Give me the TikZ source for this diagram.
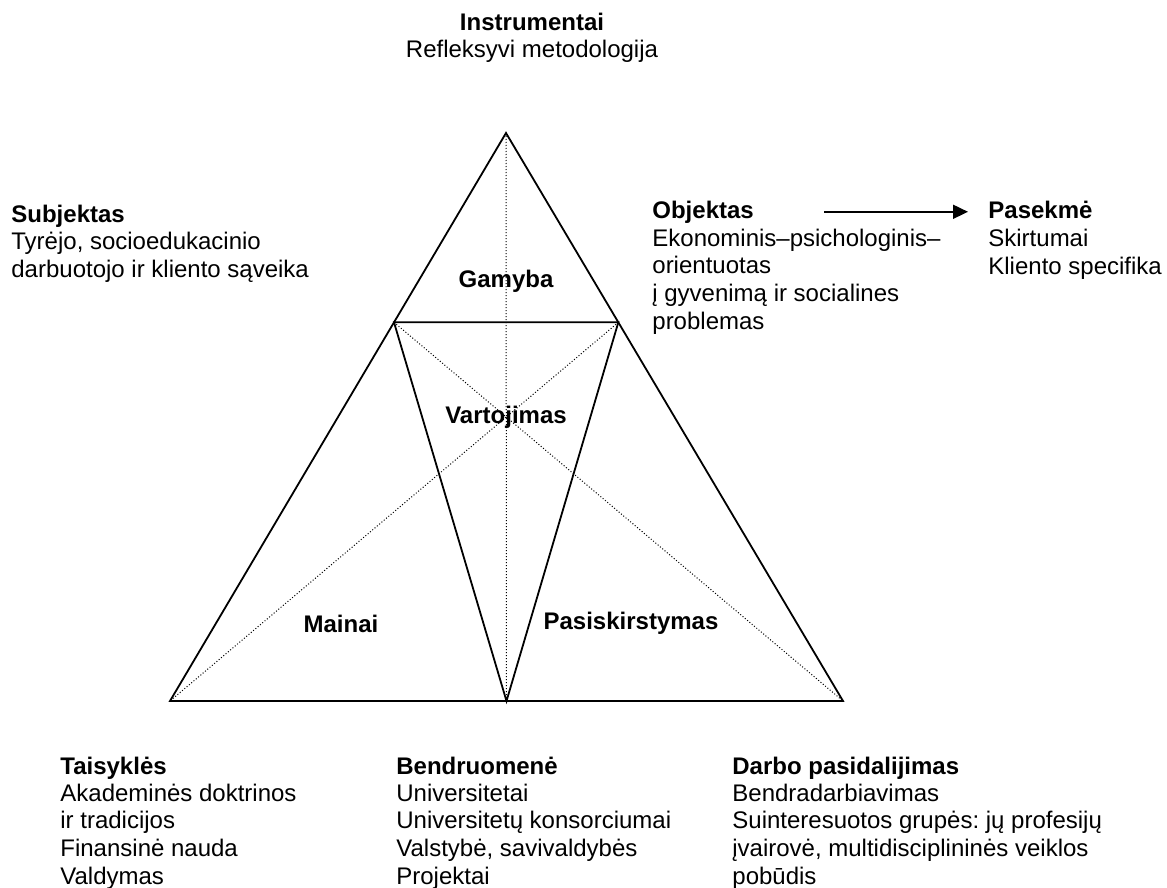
\documentclass[tikz,border=0pt]{standalone}
\usepackage{fontspec}
\setmainfont{Liberation Sans}
\usepackage{tikz}
\usetikzlibrary{calc,positioning,arrows.meta}
\frenchspacing

\begin{document}
\begin{tikzpicture}[x=0.5pt,y=-0.5pt]
    % Local definitions
    \def\third{1/3}
    \def\txtsize{\fontsize{12pt}{13.8pt}\selectfont}

    % Styles
    \tikzstyle{edge line}=[line width=0.9pt]
    \tikzstyle{guide line}=[line width=0.5pt,densely dotted]
    \tikzstyle{heading}=[anchor=base west,inner sep=0pt,font=\txtsize\bfseries]
    % a text block hangs on the baseline of its last line
    \tikzstyle{body text}=[anchor=base west,inner sep=0pt,align=left,font=\txtsize]
    \tikzstyle{part label}=[anchor=base,inner sep=0pt,font=\txtsize\bfseries]

    \fill[white] (0,0) rectangle (1167,888);
    \useasboundingbox (0,0) rectangle (1167,888);

    % The graphic
    \coordinate (top) at (506,133);
    \coordinate (left) at (170,701);
    \coordinate (right) at (843,701);
    \coordinate (mid) at ($(left)!.5!(right)$);
    \coordinate (p) at ($(top)!\third!(left)$);
    \coordinate (q) at ($(top)!\third!(right)$);

    \draw[style=guide line] (top) -- (mid);
    \draw[style=guide line] (p) -- (right);
    \draw[style=guide line] (q) -- (left);

    \draw[style=edge line] (top) -- (left) -- (right) -- cycle;
    \draw[style=edge line] (p) -- (q) -- (mid) -- cycle;

    \node[part label] (prod) at (506,287) {Gamyba};
    \node[part label] (cons) at (506,423) {Vartojimas};
    \node[part label] (exch) at (341,632) {Mainai};
    \node[part label] (distr) at (631,629) {Pasiskirstymas};

    % Texts round the triangle
    \node[heading,anchor=base] (instr) at (532,31) {Instrumentai};
    \node[body text,anchor=base,align=center] (instrtxt) at (532,58)
      {Refleksyvi metodologija};

    \node[heading] (subj) at (11,222) {Subjektas};
    \node[body text] (subjtxt) at (11,277.5)
      {Tyrėjo, socioedukacinio\\darbuotojo ir kliento sąveika};

    \node[heading] (obj) at (652,218) {Objektas};
    \node[body text] (objtxt) at (652,329)
      {Ekonominis–psichologinis–\\orientuotas\\į gyvenimą ir socialines\\problemas};

    \node[heading] (conseq) at (988,218) {Pasekmė};
    \node[body text] (conseqtxt) at (988,274.5)
      {Skirtumai\\Kliento specifika};

    \draw[-{Triangle[length=7.5pt,width=7pt]},line width=0.9pt,
      shorten <=35pt,shorten >=10pt] (obj.east) -- (obj.east -| conseq.west);

    \node[heading] (rules) at (60,774) {Taisyklės};
    \node[body text] (rulestxt) at (60,884)
      {Akademinės doktrinos\\ir tradicijos\\Finansinė nauda\\Valdymas};

    \node[heading] (comm) at (396,774) {Bendruomenė};
    \node[body text] (commtxt) at (396,884)
      {Universitetai\\Universitetų konsorciumai\\Valstybė, savivaldybės\\Projektai};

    \node[heading] (labour) at (732,774) {Darbo pasidalijimas};
    \node[body text] (labourtxt) at (732,884)
      {Bendradarbiavimas\\Suinteresuotos grupės: jų profesijų\\įvairovė, multidisciplininės veiklos\\pobūdis};
\end{tikzpicture}
\end{document}
